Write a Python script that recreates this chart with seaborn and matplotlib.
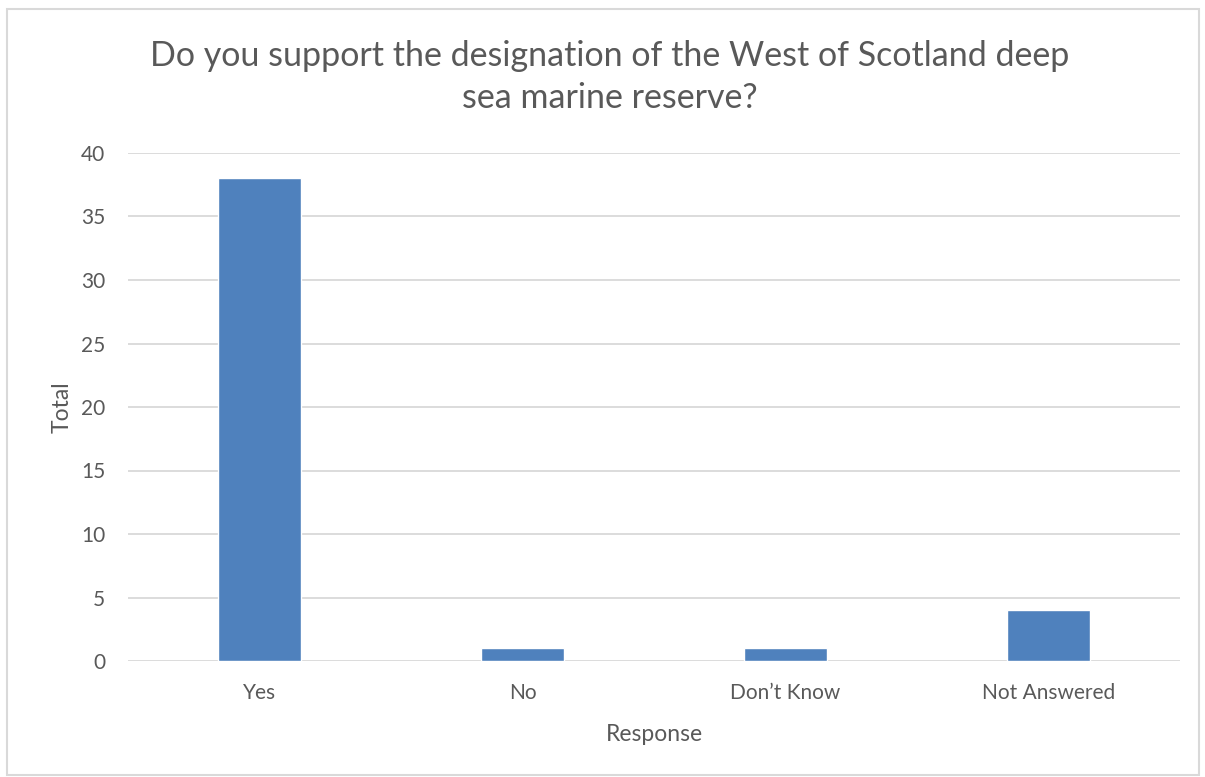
import matplotlib
matplotlib.use("Agg")
import matplotlib.pyplot as plt
import seaborn as sns
import pandas as pd
from matplotlib.patches import Rectangle

responses = ["Yes", "No", "Don\u2019t Know", "Not Answered"]
totals = [38, 1, 1, 4]
y_ticks = [0, 5, 10, 15, 20, 25, 30, 35, 40]

df = pd.DataFrame({"Response": responses, "Total": totals})

sns.set_theme(style="white")
plt.rcParams["font.family"] = ["Lato", "DejaVu Sans"]

text_color = "#595959"
grid_color = "#D9D9D9"
bar_color = "#4F81BD"

fig = plt.figure(figsize=(12.05, 7.77), dpi=100)
ax = fig.add_axes([128 / 1205, 1 - 661 / 777, (1180 - 128) / 1205, (661 - 153) / 777])

sns.barplot(data=df, x="Response", y="Total", color=bar_color, width=0.315,
            saturation=1, ax=ax, zorder=3)

ax.set_ylim(0, 40)
ax.set_xlim(-0.5, len(responses) - 0.5)
ax.set_yticks(y_ticks)
ax.yaxis.grid(True, color=grid_color, linewidth=1.3, zorder=0)
ax.set_axisbelow(True)
for s in ax.spines.values():
    s.set_visible(False)
ax.tick_params(axis="both", length=0, labelsize=15, labelcolor=text_color)
ax.tick_params(axis="y", pad=16.5)
ax.tick_params(axis="x", pad=16)

ax.set_xlabel("Response", fontsize=16.5, color=text_color, labelpad=15)
ax.set_ylabel("Total", fontsize=16.5, color=text_color, labelpad=6)

fig.text(0.506, 1 - 77 / 777,
         "Do you support the designation of the West of Scotland deep\nsea marine reserve?",
         ha="center", va="center", fontsize=24.5, color=text_color, linespacing=1.42)

fig.patches.append(Rectangle((7 / 1205, 1 - 775 / 777), (1199 - 7) / 1205, (775 - 9) / 777,
                             transform=fig.transFigure, fill=False,
                             edgecolor=grid_color, linewidth=1.5))

fig.savefig("out.png", dpi=100, facecolor="white")
